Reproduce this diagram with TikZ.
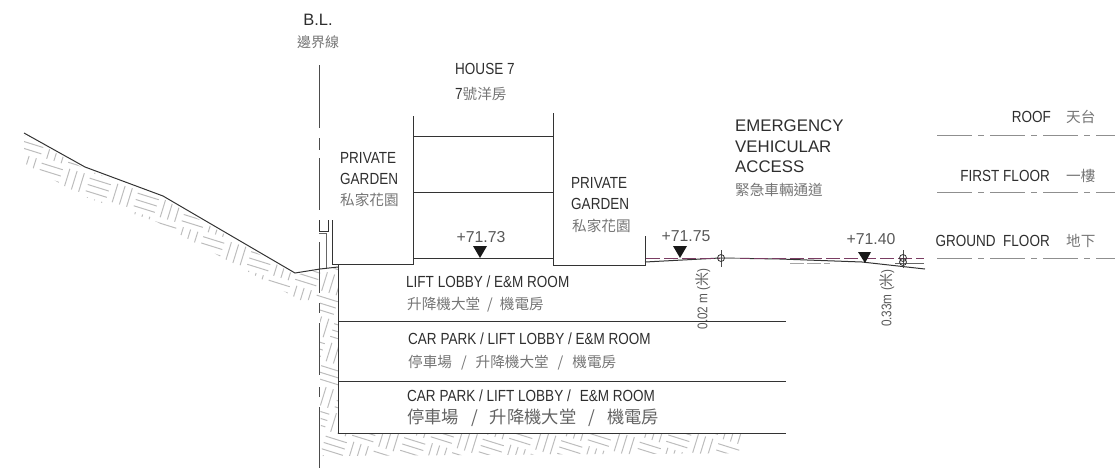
\documentclass[tikz,border=0pt]{standalone}
\usepackage{fontspec}
\setmainfont{Liberation Sans}
\newfontfamily\narrowf[FakeStretch=0.84]{Liberation Sans}
\newfontfamily\cjk{Noto Sans CJK TC}
\definecolor{txt}{HTML}{2e2e2e}
\definecolor{cjkgray}{HTML}{757575}
\definecolor{hatch}{HTML}{bdbdbd}
\definecolor{lvl}{HTML}{8f8f8f}
\definecolor{plum}{HTML}{7a3c62}
\tikzset{
 x=1pt,y=-1pt,
 hatchline/.style={hatch,line width=1pt},
 outline/.style={black!80,line width=1pt},
 en/.style={font=\narrowf\fontsize{16.1}{18}\selectfont,text=txt,inner sep=0,anchor=west},
 zh/.style={font=\cjk\fontsize{14.6}{16}\selectfont,text=cjkgray,inner sep=0,anchor=west},
 zhb/.style={font=\cjk\fontsize{17.3}{18}\selectfont,text=cjkgray!85!black,inner sep=0,anchor=west},
 wide/.style={font=\fontsize{16.8}{18}\selectfont,text=txt,inner sep=0,anchor=west},
 lvltext/.style={font=\fontsize{15.8}{18}\selectfont,text=txt!80,inner sep=0},
 rot/.style={inner sep=0,text=txt!80,font=\narrowf\fontsize{14}{16}\selectfont},
 marker/.style={fill=black!90,draw=none},
 levelline/.style={lvl,line width=0.9pt,dash pattern=on 35pt off 6pt on 6pt off 6pt},
}
\newcommand{\hatchfill}{%
 \foreach \i in {-2,...,30}{\foreach \j in {-20,...,22}{%
  \pgfmathtruncatemacro{\hpar}{mod(\i+\j+100,2)}%
  \begin{scope}[shift={(\i,\j)}]
  \ifnum\hpar=0
   \draw[hatchline] (.06,.2)--(.94,.2) (.06,.5)--(.94,.5) (.06,.8)--(.94,.8);
  \else
   \draw[hatchline] (.2,.06)--(.2,.94) (.5,.06)--(.5,.94) (.8,.06)--(.8,.94);
  \fi
  \end{scope}}}}
\begin{document}
\begin{tikzpicture}
\useasboundingbox (0,0) rectangle (1115,469);
% soil hatch
\begin{scope}
 \clip (24,135)--(85,169)--(162,198)--(295,275)--(320,270)--(338,268)--(338,434)--(790,434)--(784,453)--(322,456)--(320,400)--(320,300)--(300,300)--(157,222)--(82,196)--(24,163)--cycle;
 \begin{scope}[shift={(24,130)},x={(24pt,-7.5pt)},y={(-6.5pt,-21pt)}]\hatchfill\end{scope}
\end{scope}
% B.L. line
\coordinate (bla) at (319,65);\coordinate (blb) at (319,128);
\coordinate (blc) at (319,138);\coordinate (bld) at (319,150);
\coordinate (ble) at (319,158);\coordinate (blf) at (319,210);
\coordinate (blg) at (319,242);\coordinate (blh) at (319,293);
\coordinate (bli) at (319,303);\coordinate (blj) at (319,313);
\coordinate (blk) at (319,323);\coordinate (bll) at (319,375);
\coordinate (blm) at (319,387);\coordinate (bln) at (319,397);
\coordinate (blo) at (319,407);\coordinate (blp) at (319,468);
\draw[black!70,line width=1pt] (bla)--(blb) (blc)--(bld) (ble)--(blf) (blg)--(blh) (bli)--(blj) (blk)--(bll) (blm)--(bln) (blo)--(blp);
% ground
\draw[outline] (24,133)--(85,167)--(163,196)--(295,273)--(320,269)--(338,267);
% wall with cap
\draw[outline] (319,220)--(319,231)--(328,231)--(328,220);
\draw[outline,black!60] (319,233)--(326,233)--(326,268);
\draw[outline] (332,220)--(332,264)--(413,264)--(413,116);
\draw[outline] (338,265)--(338,433)--(786,433);
% house
\draw[outline] (553,113)--(553,265)--(645,265)--(645,236);
\draw[outline] (413,136)--(553,136) (413,192)--(553,192) (413,258)--(553,258);
% floors
\draw[outline] (338,321)--(786,321);
\draw[outline] (338,381)--(786,381);
% road
\draw[outline] (645,262)--(720,258)--(780,259)--(862,262)--(925,269);
\draw[plum,line width=.9pt,dash pattern=on 14pt off 4pt] (646,258)--(924,258);
\draw[black!40,line width=.9pt] (720,258)--(740,258);
\draw[black!35,line width=.9pt,dash pattern=on 14pt off 3pt] (790,263)--(830,263);
\draw[black!60,line width=.8pt] (895,263)--(924,263);
\draw[black!70,line width=.7pt] (721,250)--(721,267) (903,250)--(903,268);
\draw[black!80,line width=.8pt] (721,258) circle (3.5) (903,258) circle (3.5) (903,262) circle (3.5);
% level markers
\fill[marker] (473,246)--(487,246)--(480,258)--cycle;
\fill[marker] (673,246)--(687,246)--(680,258)--cycle;
\fill[marker] (858,252)--(871,252)--(865,263)--cycle;
% level lines
\draw[levelline] (937,135)--(1115,135);
\draw[levelline] (937,192)--(1115,192);
\draw[levelline] (937,258)--(1115,258);
% text
\node[font=\fontsize{16.5}{18}\selectfont,text=txt,inner sep=0] (bl) at (318,20) {B.L.};
\node[font=\cjk\fontsize{14}{16}\selectfont,text=cjkgray,inner sep=0] (blz) at (318,42) {邊界線};
\node[en] (h1) at (455,69) {HOUSE 7};
\node[en] (h2) at (455,94) {7{\cjk\fontsize{14.6}{16}\selectfont\color{cjkgray}號洋房}};
\node[en] (g1) at (340,158) {PRIVATE};
\node[en] (g2) at (340,179) {GARDEN};
\node[zh] (g3) at (340,200) {私家花園};
\node[en] (g4) at (571,183) {PRIVATE};
\node[en] (g5) at (571,204) {GARDEN};
\node[zh] (g6) at (572,226) {私家花園};
\node[lvltext] (l1) at (481,237) {+71.73};
\node[lvltext] (l2) at (686,236) {+71.75};
\node[lvltext] (l3) at (871,239) {+71.40};
\node[wide] (e1) at (735,126) {EMERGENCY};
\node[wide] (e2) at (735,147) {VEHICULAR};
\node[wide] (e3) at (735,167) {ACCESS};
\node[zh] (e4) at (735,190) {緊急車輛通道};
\node[en] (f1) at (406,282) {LIFT LOBBY / E\&M ROOM};
\node[zh] (f2) at (407,305) {升降機大堂\hspace{7pt}/\hspace{7pt}機電房};
\node[en] (f3) at (408,339) {CAR PARK / LIFT LOBBY / E\&M ROOM};
\node[zh] (f4) at (408,363) {停車場\hspace{9pt}/\hspace{9pt}升降機大堂\hspace{9pt}/\hspace{9pt}機電房};
\node[en] (f5) at (407,396) {CAR PARK / LIFT LOBBY /\hspace{9pt}E\&M ROOM};
\node[zhb] (f6) at (407,418) {停車場\hspace{12pt}/\hspace{12pt}升降機大堂\hspace{12pt}/\hspace{12pt}機電房};
\node[rot,rotate=90] (d1) at (703,299) {0.02 m ({\cjk 米})};
\node[rot,rotate=90] (d2) at (887,298) {0.33m ({\cjk 米})};
\node[en,anchor=east] (r1) at (1051,117) {ROOF};
\node[zh] (r2) at (1066,117) {天台};
\node[en,anchor=east] (r3) at (1050,176) {FIRST FLOOR};
\node[zh] (r4) at (1066,176) {一樓};
\node[en,anchor=east] (r5) at (1050,241) {GROUND\ \ FLOOR};
\node[zh] (r6) at (1066,241) {地下};
\end{tikzpicture}
\end{document}
